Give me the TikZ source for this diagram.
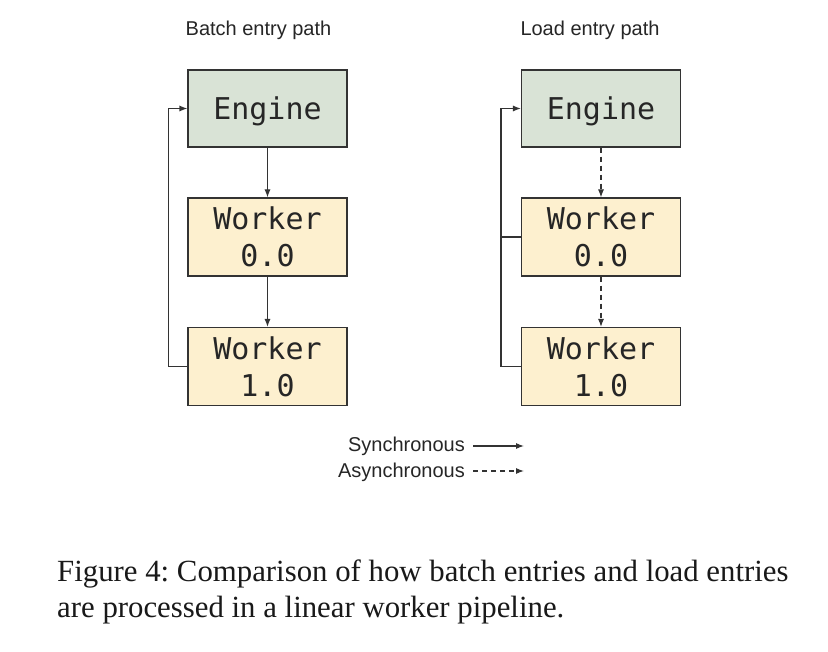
\documentclass[tikz,border=0pt]{standalone}
\usepackage{fontspec}
\setmainfont{Liberation Serif}
\newfontfamily\sansf{Liberation Sans}
\newfontfamily\monof{DejaVu Sans Mono}
\usetikzlibrary{arrows.meta}
\definecolor{engfill}{HTML}{D9E3D6}
\definecolor{wrkfill}{HTML}{FDF0CF}
\definecolor{edge}{HTML}{333333}
\tikzset{
  box/.style={draw=edge, line width=1.1pt, minimum width=159pt, inner sep=0pt, align=center,
    font=\monof\fontsize{30}{37}\selectfont, text=black!85},
  engbox/.style={box, fill=engfill, minimum height=77pt, text height=25pt, text depth=2pt},
  wrkbox/.style={box, fill=wrkfill, minimum height=78pt},
  arr/.style={draw=edge, line width=1.1pt, -{Latex[length=8pt,width=6pt]}},
  dasharr/.style={arr, dash pattern=on 5pt off 4pt},
  plain/.style={draw=edge, line width=1.1pt},
  ttl/.style={font=\sansf\fontsize{20}{24}\selectfont, text=black!85, inner sep=0pt},
  leg/.style={font=\sansf\fontsize{20}{24}\selectfont, text=black!85, inner sep=0pt, anchor=base east},
  captext/.style={font=\fontsize{30.8}{36}\selectfont\frenchspacing, text=black!90, inner sep=0pt, anchor=base west}
}
\begin{document}
\begin{tikzpicture}[x=1pt,y=-1pt]
\path[use as bounding box, fill=white] (0,0) rectangle (828,652);
% titles
\node[ttl, anchor=base] (t1) at (258.5,36) {Batch entry path};
\node[ttl, anchor=base] (t2) at (590,36) {Load entry path};
% left column
\node[engbox] (e1) at (267.5,108.5) {Engine};
\node[wrkbox] (wa1) at (267.5,237) {Worker\\0.0};
\node[wrkbox] (wb1) at (267.5,366.5) {Worker\\1.0};
\draw[arr] (e1.south) -- (wa1.north);
\draw[arr] (wa1.south) -- (wb1.north);
\draw[arr] (wb1.west) -- ++(-19,0) |- (e1.west);
% right column
\node[engbox] (e2) at (601,108.5) {Engine};
\node[wrkbox] (wa2) at (601,237) {Worker\\0.0};
\node[wrkbox] (wb2) at (601,366.5) {Worker\\1.0};
\draw[dasharr] (e2.south) -- (wa2.north);
\draw[dasharr] (wa2.south) -- (wb2.north);
\draw[arr] (wb2.west) -- ++(-20,0) coordinate (rl) |- (e2.west);
\draw[plain] (wa2.west) -- (wa2.west -| rl);
% legend
\node[leg] (ls) at (465,452) {Synchronous};
\node[leg] (la) at (465,477) {Asynchronous};
\coordinate (lsa) at (473,446);
\coordinate (lsb) at (524,446);
\coordinate (laa) at (473,471);
\coordinate (lab) at (524,471);
\draw[arr] (lsa) -- (lsb);
\draw[dasharr] (laa) -- (lab);
% caption
\node[captext] (c1) at (57,581) {Figure 4: Comparison of how batch entries and load entries};
\node[captext] (c2) at (57,617) {are processed in a linear worker pipeline.};
\end{tikzpicture}
\end{document}
